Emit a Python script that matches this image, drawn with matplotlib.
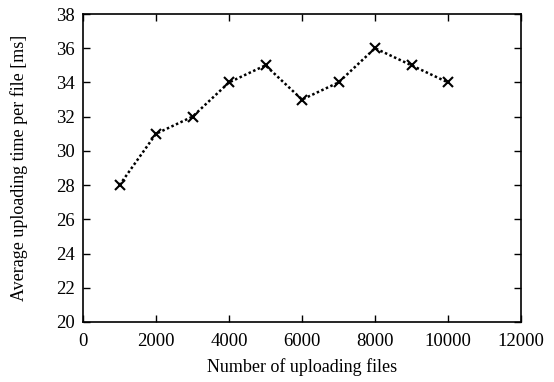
import matplotlib
matplotlib.use("Agg")
import matplotlib.pyplot as plt

files = [1000, 2000, 3000, 4000, 5000, 6000, 7000, 8000, 9000, 10000]
times = [28, 31, 32, 34, 35, 33, 34, 36, 35, 34]
xticks = [0, 2000, 4000, 6000, 8000, 10000, 12000]
yticks = [20, 22, 24, 26, 28, 30, 32, 34, 36, 38]

plt.rcParams['font.family'] = ['Liberation Serif', 'DejaVu Serif']
plt.rcParams['font.size'] = 13.5

fig = plt.figure(figsize=(5.54, 3.82), dpi=100)
ax = fig.add_axes([83/554, 1-322/382, (521-83)/554, (322-14)/382])
ax.plot(files, times, linestyle=(0, (1.0, 1.0)), color='black', linewidth=1.8,
        marker='x', markersize=7, markeredgewidth=1.5)
ax.set_xlim(0, 12000)
ax.set_ylim(20, 38)
ax.set_xticks(xticks)
ax.set_yticks(yticks)
ax.tick_params(direction='in', top=True, right=True, length=5, width=1)
ax.tick_params(axis='x', pad=8)
ax.tick_params(axis='y', pad=6)
for s in ax.spines.values():
    s.set_linewidth(1.2)
ax.set_xlabel('Number of uploading files', labelpad=6, fontsize=13)
ax.set_ylabel('Average uploading time per file [ms]', labelpad=20, fontsize=13)
fig.savefig('out.png', dpi=100)
